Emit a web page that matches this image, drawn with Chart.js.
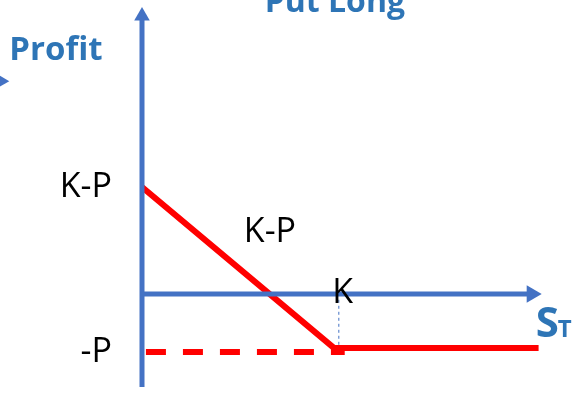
<!DOCTYPE html>
<html>
<head>
<meta charset="utf-8">
<script src="https://cdn.jsdelivr.net/npm/chart.js@4.4.1/dist/chart.umd.min.js"></script>
<style>
    html, body { margin: 0; padding: 0; background: #fff; }
    #putChart { display: block; }
</style>
</head>
<body>
<canvas id="putChart" width="582" height="408"></canvas>
<script>
// schematic units: strike K = 1, premium P = 1 (the sketch is not to scale)
const strike = 1;
const premium = 1;
const maxProfit = 1.845;           // K-P at S_T = 0
const payoffX = [0, 0.975, 2.015];
const payoffY = [maxProfit, -0.93, -0.93];
const lossX = [0.02, 1.03];
const lossY = [-premium, -premium];
const strikeGuideY = [-0.1, -0.89];
const yTickValues = [maxProfit, -premium];
const yTickLabels = ["K-P", "-P"];
const strikeLabel = "K";
const slopeLabel = "K-P";
const titleText = "Put Long";
const yAxisTitle = "Profit";
const xAxisTitle = ["S", "T"];

const AXIS_BLUE = "#4472C4";
const TEXT_BLUE = "#2E75B6";
const RED = "#FF0000";

const pts = (xs, ys) => xs.map((v, i) => ({ x: v, y: ys[i] }));

// axis titles, strike mark etc. placed through the scales
const sketchLabels = {
    id: "sketchLabels",
    afterDatasetsDraw(chart) {
        const { ctx, scales: { x, y } } = chart;
        ctx.save();

        // leftover arrow tip at the left edge of the slide (outside the chart area)
        ctx.fillStyle = AXIS_BLUE;
        Chart.helpers.drawPoint(ctx, { pointStyle: "triangle", radius: 9, rotation: 90, borderWidth: 0 },
            x.getPixelForValue(-0.72), y.getPixelForValue(3.67));

        ctx.textBaseline = "alphabetic";
        ctx.fillStyle = TEXT_BLUE;
        ctx.textAlign = "center";
        ctx.font = "bold 32px 'Open Sans'";
        ctx.fillText(titleText, x.getPixelForValue(0.98), y.getPixelForValue(4.862));
        ctx.font = "bold 33px 'Open Sans'";
        ctx.fillText(yAxisTitle, x.getPixelForValue(-0.437), y.getPixelForValue(4.03));

        ctx.fillStyle = "#000";
        ctx.font = "34px 'Open Sans'";
        ctx.fillText(slopeLabel, x.getPixelForValue(0.65), y.getPixelForValue(0.897));
        ctx.fillText(strikeLabel, x.getPixelForValue(strike + 0.02), y.getPixelForValue(-0.155));

        ctx.fillStyle = TEXT_BLUE;
        ctx.textAlign = "left";
        ctx.font = "bold 42px 'Open Sans'";
        const sx = x.getPixelForValue(2.0);
        const sy = y.getPixelForValue(-0.741);
        ctx.fillText(xAxisTitle[0], sx, sy);
        const w = ctx.measureText(xAxisTitle[0]).width;
        ctx.font = "bold 24px 'Open Sans'";
        ctx.fillText(xAxisTitle[1], sx + w - 1, sy);
        ctx.restore();
    },
};

new Chart(document.getElementById("putChart"), {
    type: "line",
    data: {
        datasets: [
            {
                // vertical (profit) axis with arrow head
                data: pts([0, 0], [-1.603, 4.793]),
                borderColor: AXIS_BLUE,
                borderWidth: 5,
                pointStyle: "triangle",
                pointRadius: [0, 9],
                pointRotation: [0, 0],
                pointBackgroundColor: AXIS_BLUE,
                pointBorderWidth: 0,
                order: 0,
                clip: false,
            },
            {
                // horizontal (S_T) axis with arrow head
                data: pts([-0.01, 1.98], [0, 0]),
                borderColor: AXIS_BLUE,
                borderWidth: 5,
                pointStyle: "triangle",
                pointRadius: [0, 10],
                pointRotation: [0, 90],
                pointBackgroundColor: AXIS_BLUE,
                pointBorderWidth: 0,
                order: 0,
                clip: false,
            },
            {
                // thin guide from K down to the kink
                data: pts([strike, strike], strikeGuideY),
                borderColor: AXIS_BLUE,
                borderWidth: 1,
                borderDash: [3, 3],
                pointRadius: 0,
                order: 2,
            },
            {
                // loss level -P
                data: pts(lossX, lossY),
                borderColor: RED,
                borderWidth: 6,
                borderDash: [20, 17],
                pointRadius: 0,
                order: 1,
            },
            {
                // payoff of the long put
                data: pts(payoffX, payoffY),
                borderColor: RED,
                borderWidth: 6,
                borderJoinStyle: "miter",
                pointRadius: 0,
                tension: 0,
                order: 1,
            },
        ],
    },
    options: {
        responsive: false,
        animation: false,
        events: [],
        layout: { autoPadding: false, padding: { left: 0, right: 7, top: 0, bottom: 0 } },
        plugins: {
            legend: { display: false },
            tooltip: { enabled: false },
            title: { display: false },
        },
        scales: {
            x: {
                type: "linear",
                min: 0,
                max: 2.2,
                display: false,
            },
            y: {
                type: "linear",
                min: -1.966,
                max: 5.069,
                border: { display: false },
                grid: { display: false, drawTicks: false },
                afterBuildTicks: (axis) => {
                    axis.ticks = yTickValues.map((v) => ({ value: v }));
                },
                afterFit: (axis) => {
                    axis.width = 142;
                    axis.paddingTop = 0;
                    axis.paddingBottom = 0;
                },
                ticks: {
                    padding: 30,
                    color: "#000",
                    font: { family: "Open Sans", size: 34 },
                    callback: (value, index) => yTickLabels[index],
                },
            },
        },
    },
    plugins: [sketchLabels],
});
</script>
</body>
</html>
